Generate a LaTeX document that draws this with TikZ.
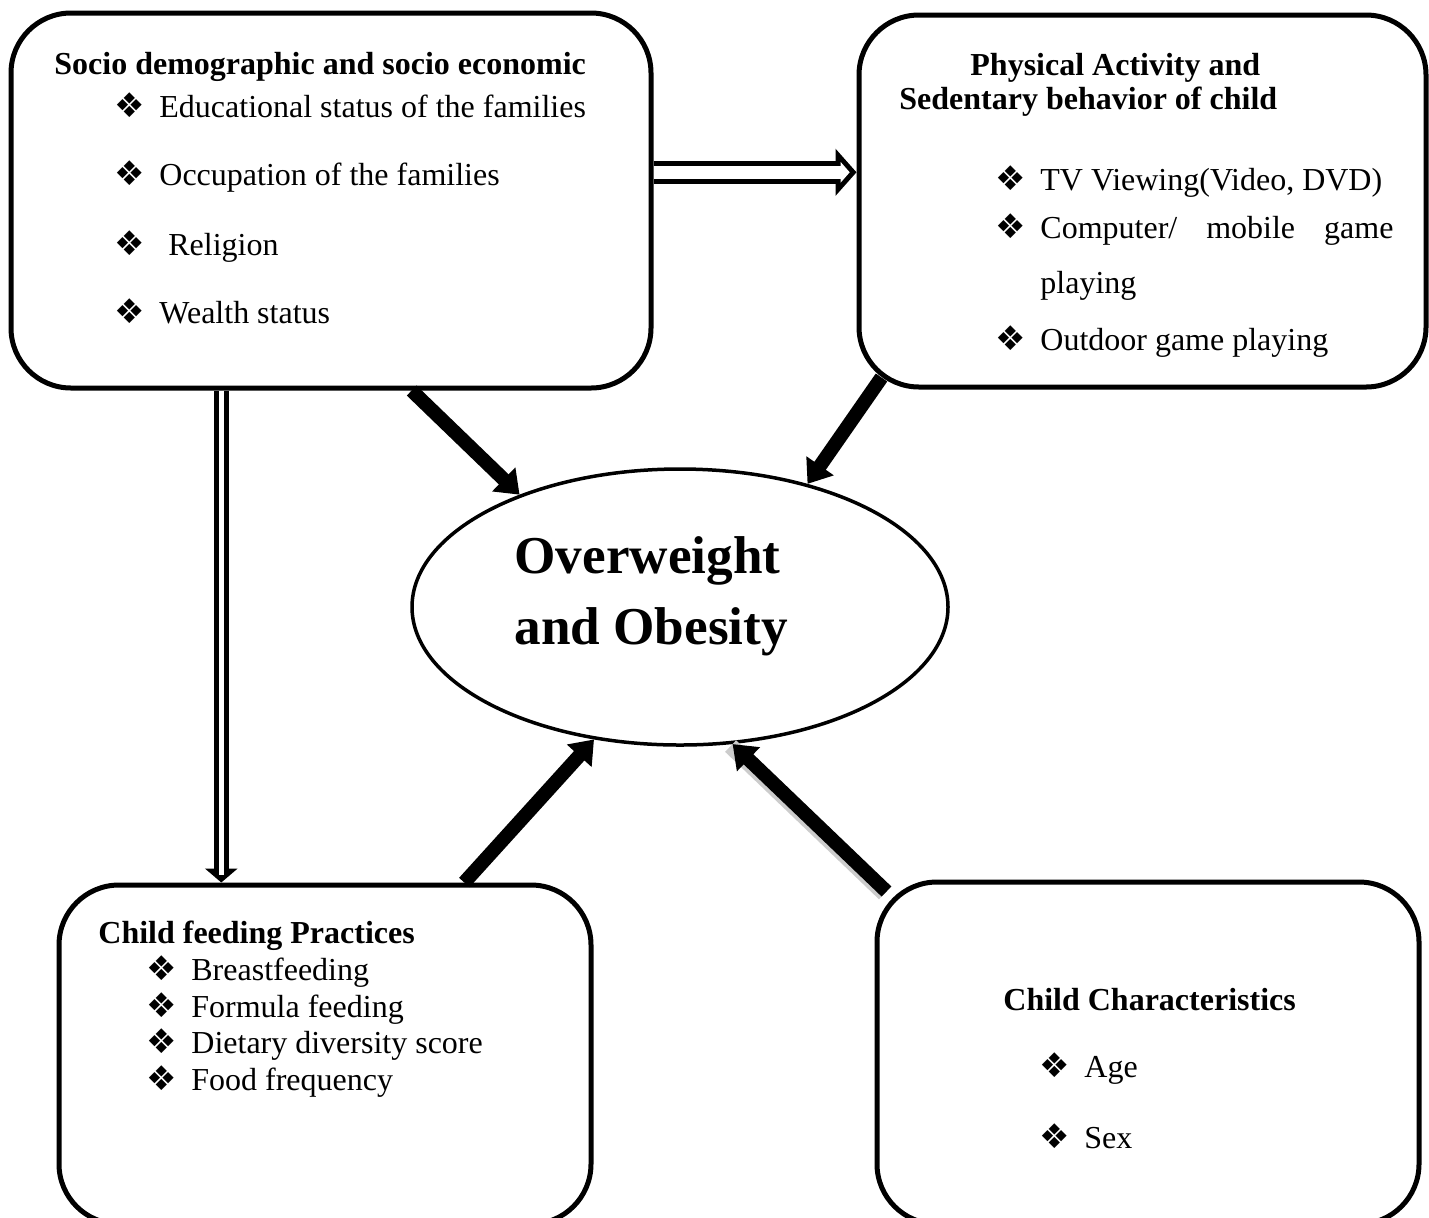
\documentclass[tikz,border=0pt]{standalone}
\usepackage{fontspec}
\setmainfont{Liberation Serif}
\newfontfamily\dingfont{DejaVu Sans}
\usetikzlibrary{shapes.geometric,arrows.meta}

\newcommand{\dingmark}{\makebox[22.5pt][l]{\dingfont\fontsize{17}{19}\selectfont ❖}}

\begin{document}
\begin{tikzpicture}[x=0.5pt, y=-0.5pt,
    roundbox/.style={draw, line width=2.5pt, rounded corners=30pt, inner sep=0pt},
    txt/.style={anchor=base west, inner sep=0pt, font=\fontsize{16}{19}\selectfont},
    heading/.style={txt, font=\fontsize{16}{19}\selectfont\bfseries},
    big/.style={anchor=base west, inner sep=0pt, font=\fontsize{26.6}{32}\selectfont\bfseries},
    fat/.style={line width=7pt, -{Triangle[length=11pt, width=16pt]}},
    hollowh/.style={line width=11.5pt, -{Triangle[length=10.5pt, width=23pt]},
        postaction={draw=white, line width=6.5pt, -{Triangle[length=4.5pt, width=10pt]}, shorten >=3.4pt}},
    hollowv/.style={line width=7.6pt, -{Triangle[length=7pt, width=16pt]},
        postaction={draw=white, line width=2.4pt, -, shorten >=4pt}}]
    \useasboundingbox (0,0) rectangle (1429,1217);

    % Boxes
    \node[roundbox, minimum width=320pt, minimum height=187.5pt] (socio) at (331,200.5) {};
    \node[roundbox, minimum width=283.5pt, minimum height=186pt] (phys) at (1142.5,201) {};
    \node[roundbox, minimum width=266pt, minimum height=169.5pt] (feed) at (325,1054.5) {};
    \node[roundbox, minimum width=271pt, minimum height=171pt] (chars) at (1148,1053) {};
    \node[ellipse, draw, line width=1.75pt, minimum width=268pt, minimum height=138pt, inner sep=0pt] (obes) at (680,607) {};

    % Socio demographic
    \node[heading] (s0) at (54,74) {Socio demographic and socio economic};
    \node[txt] (s1) at (114,117) {\dingmark Educational status of the families};
    \node[txt] (s2) at (114,185) {\dingmark Occupation of the families};
    \node[txt] (s3) at (114,255) {\dingmark\hspace{4.5pt}Religion};
    \node[txt] (s4) at (114,323) {\dingmark Wealth status};

    % Physical activity
    \node[heading] (p0) at (970,75) {Physical Activity and};
    \node[heading] (p0b) at (899,109) {Sedentary behavior of child};
    \node[txt] (p1) at (995,190) {\dingmark TV Viewing(Video, DVD)};
    \node[txt] (p2) at (995,238) {\dingmark\makebox[176.5pt][s]{Computer/ mobile game}};
    \node[txt] (p2b) at (1040,293) {playing};
    \node[txt] (p3) at (995,350) {\dingmark Outdoor game playing};

    % Child feeding
    \node[heading] (f0) at (98,943) {Child feeding Practices};
    \node[txt] (f1) at (146,980) {\dingmark Breastfeeding};
    \node[txt] (f2) at (146,1017) {\dingmark Formula feeding};
    \node[txt] (f3) at (146,1053) {\dingmark Dietary diversity score};
    \node[txt] (f4) at (146,1090) {\dingmark Food frequency};

    % Child characteristics
    \node[heading] (c0) at (1003,1010) {Child Characteristics};
    \node[txt] (c1) at (1039,1077) {\dingmark Age};
    \node[txt] (c2) at (1039,1148) {\dingmark Sex};

    % Outcome
    \node[big] (o1) at (514,573) {Overweight};
    \node[big] (o2) at (514,644) {and Obesity};

    % Hollow arrows
    \draw[hollowh] (socio.5) -- (socio.5 -| phys.west);
    \draw[hollowv] (socio.-120) -- (socio.-120 |- feed.north);

    % Thick arrows
    \draw[fat] (socio.-67) -- (obes.145);
    \draw[fat] ([shift={(25,-12)}]phys.south west) -- (obes.44);
    \draw[fat] (feed.51) -- (obes.-123);
    \draw[fat, preaction={draw=black!20, line width=8pt, -, transform canvas={shift={(-1pt,-1pt)}}}] ([shift={(12,12)}]chars.north west) -- (obes.-69);
\end{tikzpicture}
\end{document}
